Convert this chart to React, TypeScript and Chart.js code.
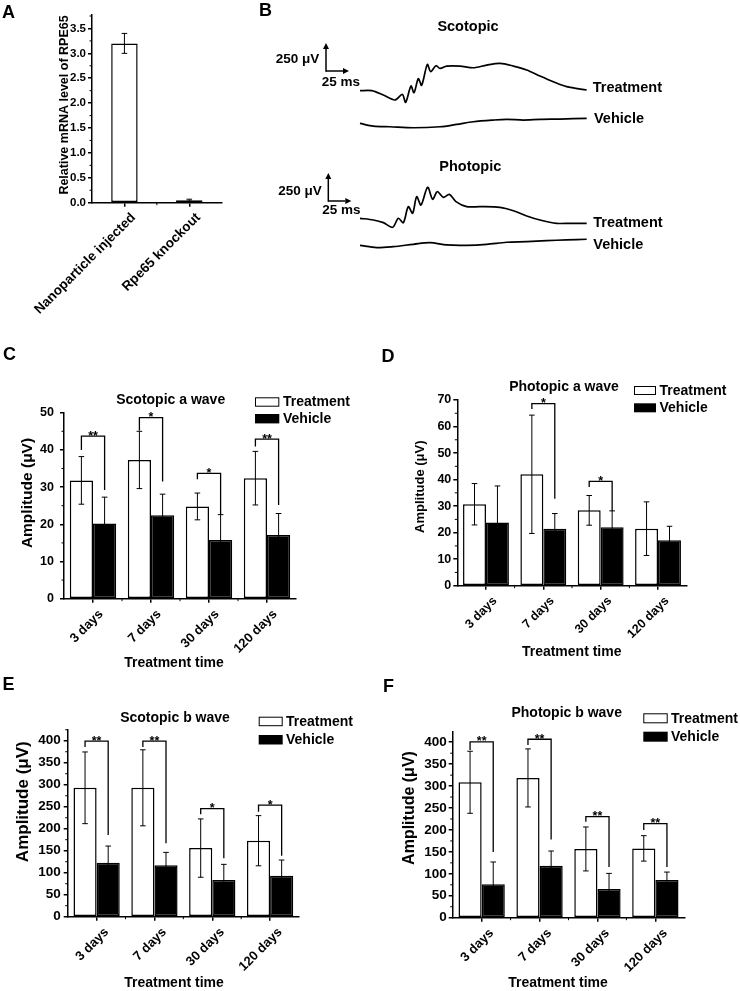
import React, { useEffect, useRef } from 'react';
import { Chart, registerables } from 'chart.js';

Chart.register(...registerables);

const FONT = '"Liberation Sans", Arial, Helvetica, sans-serif';
const boldFont = (size: number) => `bold ${size}px ${FONT}`;

// ================= DATA =================
// Panel A
const A_LABELS = ['Nanoparticle injected', 'Rpe65 knockout'];
const A_VALUES = [3.2, 0.05];
const A_ERRORS = [0.2, 0.02];

// Panel B: ERG traces (time in ms, amplitude in µV)
const SCALE_BAR_MS = 25;
const SCALE_BAR_UV = 250;
const SCOT_TREAT_T = [0, 12.7, 25.4, 38.0, 46.0, 49.6, 55.4, 58.7, 63.4, 67.0, 73.2, 76.8, 82.6, 87.0, 94.2, 108.7, 123.2, 137.7, 152.2, 166.7, 181.2, 195.6, 210.1, 224.6, 246.4];
const SCOT_TREAT_V = [0, 0, -39, -83, -33, -104, 42, -18, 107, 48, 235, 170, 223, 199, 220, 220, 205, 229, 244, 220, 185, 131, 80, 36, 6];
const SCOT_VEH_T = [0, 14.5, 32.6, 58, 87, 105, 123.2, 145, 159.4, 177.5, 195.6, 217.4, 246.4];
const SCOT_VEH_V = [0, -24, -30, -39, -30, -9, 15, 30, 36, 30, 36, 39, 45];
const PHOT_TREAT_T = [0, 14.5, 25.4, 35.5, 41.7, 47.1, 52.5, 57.2, 61.6, 66.3, 73.5, 79.0, 84.0, 90.6, 97.1, 104.3, 115.9, 130.4, 152.2, 166.7, 181.2, 195.6, 213.8, 228.2, 246.4];
const PHOT_TREAT_V = [0, -15, -39, -80, 0, -39, 104, 45, 193, 119, 277, 170, 238, 187, 214, 149, 104, 104, 98, 68, 21, -15, -45, -45, -45];
const PHOT_VEH_T = [0, 18.1, 36.2, 58, 76.1, 94.2, 115.9, 137.7, 159.4, 181.2, 202.9, 224.6, 246.4];
const PHOT_VEH_V = [0, -21, -12, 9, 24, 3, 0, 9, 27, 33, 42, 48, 54];

// Panels C–F
const TIME_LABELS = ['3 days', '7 days', '30 days', '120 days'];

const C_TREATMENT = [31.8, 37.3, 24.8, 32.4];
const C_TREATMENT_SD = [6.4, 7.7, 3.6, 7.2];
const C_VEHICLE = [20.2, 22.4, 15.8, 17.1];
const C_VEHICLE_SD = [7.1, 5.7, 6.8, 5.8];
// [category index, bracket level, left leg end, right leg end, label]
const C_SIG = [[0, 43.7, 40, 29.2, '**'], [1, 48.7, 45.2, 31.5, '*'], [2, 33.7, 32.1, 22.8, '*'], [3, 42.9, 40.9, 25.2, '**']];

const D_TREATMENT = [30.7, 42.0, 28.4, 21.5];
const D_TREATMENT_SD = [7.8, 22.3, 5.6, 10.1];
const D_VEHICLE = [23.8, 21.5, 22.0, 17.1];
const D_VEHICLE_SD = [13.8, 5.7, 6.2, 5.3];
const D_SIG = [[1, 68.6, 66.6, 32.8, '*'], [2, 39.3, 37.2, 28.2, '*']];

const E_TREATMENT = [293, 293, 156, 172.7];
const E_TREATMENT_SD = [81.5, 86.4, 66.3, 57];
const E_VEHICLE = [122.7, 116.7, 83.3, 93.2];
const E_VEHICLE_SD = [37.9, 29.5, 35.7, 35.6];
const E_SIG = [[0, 399, 386, 185.6, '**'], [1, 399, 386, 166.7, '**'], [2, 245.5, 233, 132.6, '*'], [3, 253.8, 238.6, 138.6, '*']];

const F_TREATMENT = [308.7, 318.6, 156.7, 158];
const F_TREATMENT_SD = [70.7, 66.2, 50.1, 29];
const F_VEHICLE = [76, 118.6, 65.4, 86];
const F_VEHICLE_SD = [51, 33.4, 35.6, 18];
const F_SIG = [[0, 400.8, 382.5, 149.8, '**'], [1, 406.8, 393.9, 178, '**'], [2, 230.4, 219, 115.6, '**'], [3, 214.4, 200, 115.6, '**']];

// ================= LAYOUT =================
const A_PANEL = {
  canvas: { x: 0, y: 0, w: 240, h: 330 },
  area: { l: 92, t: 15, r: 221.7, b: 202.7 },
  labels: A_LABELS,
  series: [{ name: 'RPE65', values: A_VALUES, errors: A_ERRORS, fill: '#ffffff' }],
  catPct: 0.8, barPct: 0.51,
  yMax: 3.77, yStep: 0.5, decimals: 1, yTickSize: 11.5, yTickPad: 2,
  xTickSize: 13.5, xLabelOffset: 9, xTickPad: 3,
  sig: [],
  yTitle: { text: 'Relative mRNA level of RPE65', x: 65, y: 105, size: 12.5 },
  letter: { text: 'A', x: 2, y: 18.3 },
};

function timePanel(o: any) {
  return {
    labels: TIME_LABELS,
    catPct: 0.8, barPct: 1,
    decimals: 0,
    series: [
      { name: 'Treatment', values: o.treat, errors: o.treatErr, fill: '#ffffff' },
      { name: 'Vehicle', values: o.veh, errors: o.vehErr, fill: '#000000' },
    ],
    ...o,
  };
}

const C_PANEL = timePanel({
  canvas: { x: 0, y: 340, w: 370, h: 330 },
  area: { l: 64, t: 412.7, r: 296, b: 598.7 },
  treat: C_TREATMENT, treatErr: C_TREATMENT_SD, veh: C_VEHICLE, vehErr: C_VEHICLE_SD, sig: C_SIG,
  yMax: 50, yStep: 10, yTickSize: 12.5, yTickPad: 6,
  xTickSize: 13, xLabelOffset: 8, xTickPad: 4,
  title: { text: 'Scotopic a wave', x: 170.7, y: 400 },
  legend: { x: 255, w: 24.3, y1: 397.3, y2: 414, h: 9.4, textX: 283 },
  yTitle: { text: 'Amplitude (\u03bcV)', x: 27.7, y: 493, size: 15.5 },
  xTitle: { text: 'Treatment time', x: 174, y: 663, size: 14 },
  letter: { text: 'C', x: 3, y: 360 },
});

const D_PANEL = timePanel({
  canvas: { x: 370, y: 340, w: 370, h: 330 },
  area: { l: 457.3, t: 400, r: 686.7, b: 585.7 },
  treat: D_TREATMENT, treatErr: D_TREATMENT_SD, veh: D_VEHICLE, vehErr: D_VEHICLE_SD, sig: D_SIG,
  yMax: 70, yStep: 10, yTickSize: 12.5, yTickPad: 2,
  xTickSize: 12.5, xLabelOffset: 9, xTickPad: 4,
  title: { text: 'Photopic a wave', x: 564, y: 386.7 },
  legend: { x: 634, w: 22, y1: 386, y2: 403.3, h: 9, textX: 659.5 },
  yTitle: { text: 'Amplitude (\u03bcV)', x: 420, y: 486.7, size: 13 },
  xTitle: { text: 'Treatment time', x: 571.7, y: 651.7, size: 14 },
  letter: { text: 'D', x: 381.5, y: 361.7 },
});

const E_PANEL = timePanel({
  canvas: { x: 0, y: 670, w: 370, h: 321 },
  area: { l: 67.7, t: 729.3, r: 299, b: 916.7 },
  treat: E_TREATMENT, treatErr: E_TREATMENT_SD, veh: E_VEHICLE, vehErr: E_VEHICLE_SD, sig: E_SIG,
  yMax: 426, yStep: 50, yTickSize: 13.5, yTickPad: 3,
  xTickSize: 13, xLabelOffset: 10, xTickPad: 4,
  title: { text: 'Scotopic b wave', x: 175, y: 718 },
  legend: { x: 258.7, w: 24, y1: 716.7, y2: 735, h: 9.5, textX: 286 },
  yTitle: { text: 'Amplitude (\u03bcV)', x: 23.3, y: 801.7, size: 17 },
  xTitle: { text: 'Treatment time', x: 174, y: 983, size: 14 },
  letter: { text: 'E', x: 2.5, y: 690 },
});

const F_PANEL = timePanel({
  canvas: { x: 370, y: 670, w: 370, h: 321 },
  area: { l: 452.7, t: 731.7, r: 684.3, b: 917.7 },
  treat: F_TREATMENT, treatErr: F_TREATMENT_SD, veh: F_VEHICLE, vehErr: F_VEHICLE_SD, sig: F_SIG,
  yMax: 424, yStep: 50, yTickSize: 13.5, yTickPad: 2,
  xTickSize: 13, xLabelOffset: 10, xTickPad: 4,
  title: { text: 'Photopic b wave', x: 566.7, y: 712.7 },
  legend: { x: 643.3, w: 24.4, y1: 713.3, y2: 731.7, h: 10, textX: 671 },
  yTitle: { text: 'Amplitude (\u03bcV)', x: 409.3, y: 808, size: 16 },
  xTitle: { text: 'Treatment time', x: 558, y: 983.3, size: 14 },
  letter: { text: 'F', x: 383, y: 691.7 },
});

const PX_PER_MS = 23 / SCALE_BAR_MS;
const UV_PER_PX = SCALE_BAR_UV / 28;

const SCOT_PANEL = {
  canvas: { x: 240, y: 0, w: 500, h: 150 },
  baseX: 360, baseY: 90.7,
  treatT: SCOT_TREAT_T, treatV: SCOT_TREAT_V, vehT: SCOT_VEH_T, vehV: SCOT_VEH_V,
  vehOffset: -292,
  barCorner: { x: 326, y: 71 },
  title: { text: 'Scotopic', x: 468, y: 26.7 },
  uvLabel: { x: 319.3, y: 59.3 },
  msLabel: { x: 321.7, y: 82.3 },
  treatLabel: { x: 592.7, y: 87.7 },
  vehLabel: { x: 594, y: 119.3 },
  letter: { text: 'B', x: 259, y: 16 },
};

const PHOT_PANEL = {
  canvas: { x: 240, y: 150, w: 500, h: 150 },
  baseX: 360, baseY: 218.3,
  treatT: PHOT_TREAT_T, treatV: PHOT_TREAT_V, vehT: PHOT_VEH_T, vehV: PHOT_VEH_V,
  vehOffset: -241,
  barCorner: { x: 328.3, y: 201 },
  title: { text: 'Photopic', x: 470.3, y: 166.7 },
  uvLabel: { x: 321.7, y: 191 },
  msLabel: { x: 322.3, y: 210.7 },
  treatLabel: { x: 593.3, y: 222.7 },
  vehLabel: { x: 593.3, y: 245 },
  letter: null,
};

// ================= HELPERS =================
function seg(ctx: CanvasRenderingContext2D, x1: number, y1: number, x2: number, y2: number) {
  ctx.beginPath();
  ctx.moveTo(x1, y1);
  ctx.lineTo(x2, y2);
  ctx.stroke();
}

function text(ctx: CanvasRenderingContext2D, s: string, x: number, y: number, size: number, align: CanvasTextAlign = 'center', baseline: CanvasTextBaseline = 'middle') {
  ctx.font = boldFont(size);
  ctx.textAlign = align;
  ctx.textBaseline = baseline;
  ctx.fillStyle = '#000';
  ctx.fillText(s, x, y);
}

function arrow(ctx: CanvasRenderingContext2D, x1: number, y1: number, x2: number, y2: number) {
  const ang = Math.atan2(y2 - y1, x2 - x1);
  const len = 6, half = 3;
  const bx = x2 - len * Math.cos(ang), by = y2 - len * Math.sin(ang);
  ctx.lineWidth = 1.5;
  seg(ctx, x1, y1, bx, by);
  ctx.beginPath();
  ctx.moveTo(x2, y2);
  ctx.lineTo(bx - half * Math.sin(ang), by + half * Math.cos(ang));
  ctx.lineTo(bx + half * Math.sin(ang), by - half * Math.cos(ang));
  ctx.closePath();
  ctx.fill();
}

function barOverlay(p: any) {
  return {
    id: 'barOverlay',
    afterDraw(chart: any) {
      const ctx: CanvasRenderingContext2D = chart.ctx;
      const X = (v: number) => v - p.canvas.x;
      const Y = (v: number) => v - p.canvas.y;
      const xs = chart.scales.x;
      const ys = chart.scales.y;
      const ca = chart.chartArea;
      ctx.save();
      ctx.strokeStyle = '#000';
      ctx.fillStyle = '#000';
      // minor ticks
      ctx.lineWidth = 1;
      for (let k = 0; ; k++) {
        const v = p.yStep * (k + 0.5);
        if (v > p.yMax + 1e-9) break;
        const y = ys.getPixelForValue(v);
        seg(ctx, ca.left - 2.5, y, ca.left, y);
      }
      for (let i = 1; i < p.labels.length; i++) {
        const x = (xs.getPixelForValue(i - 1) + xs.getPixelForValue(i)) / 2;
        seg(ctx, x, ca.bottom, x, ca.bottom + 2.5);
      }
      // error bars
      p.series.forEach((s: any, di: number) => {
        const meta = chart.getDatasetMeta(di);
        meta.data.forEach((el: any, i: number) => {
          const x = el.x;
          const yt = ys.getPixelForValue(s.values[i] + s.errors[i]);
          const yb = ys.getPixelForValue(Math.max(0, s.values[i] - s.errors[i]));
          ctx.lineWidth = 1;
          seg(ctx, x, yt, x, yb);
          seg(ctx, x - 2.8, yt, x + 2.8, yt);
          seg(ctx, x - 2.8, yb, x + 2.8, yb);
        });
      });
      // significance brackets
      if (p.sig && p.sig.length) {
        const m0 = chart.getDatasetMeta(0);
        const m1 = chart.getDatasetMeta(1);
        p.sig.forEach((b: any) => {
          const [idx, top, le, re, lab] = b;
          const lx = m0.data[idx].x;
          const rx = m1.data[idx].x;
          const yt = ys.getPixelForValue(top);
          ctx.lineWidth = 1.3;
          ctx.beginPath();
          ctx.moveTo(lx, ys.getPixelForValue(le));
          ctx.lineTo(lx, yt);
          ctx.lineTo(rx, yt);
          ctx.lineTo(rx, ys.getPixelForValue(re));
          ctx.stroke();
          text(ctx, lab, (lx + rx) / 2, yt + 3.5, 12.5, 'center', 'alphabetic');
        });
      }
      // title
      if (p.title) text(ctx, p.title.text, X(p.title.x), Y(p.title.y), 14);
      // legend
      if (p.legend) {
        const L = p.legend;
        ctx.fillStyle = '#fff';
        ctx.fillRect(X(L.x), Y(L.y1), L.w, L.h);
        ctx.lineWidth = 1;
        ctx.strokeStyle = '#000';
        ctx.strokeRect(X(L.x) + 0.5, Y(L.y1) + 0.5, L.w - 1, L.h - 1);
        ctx.fillStyle = '#000';
        ctx.fillRect(X(L.x), Y(L.y2), L.w, L.h);
        text(ctx, p.series[0].name, X(L.textX), Y(L.y1) + L.h / 2 + 0.5, 14, 'left');
        text(ctx, p.series[1].name, X(L.textX), Y(L.y2) + L.h / 2 + 0.5, 14, 'left');
      }
      // axis titles
      if (p.yTitle) {
        ctx.save();
        ctx.translate(X(p.yTitle.x), Y(p.yTitle.y));
        ctx.rotate(-Math.PI / 2);
        text(ctx, p.yTitle.text, 0, 0, p.yTitle.size);
        ctx.restore();
      }
      if (p.xTitle) text(ctx, p.xTitle.text, X(p.xTitle.x), Y(p.xTitle.y), p.xTitle.size);
      if (p.letter) text(ctx, p.letter.text, X(p.letter.x), Y(p.letter.y), 18, 'left', 'alphabetic');
      ctx.restore();
    },
  };
}

function barConfig(p: any) {
  const c = p.canvas;
  const a = p.area;
  const font = (size: number) => ({ family: FONT, weight: 'bold', size });
  const datasets = p.series.map((s: any) => ({
    label: s.name,
    data: s.values,
    backgroundColor: s.fill,
    borderColor: '#000',
    borderWidth: 1.5,
    borderSkipped: false,
    categoryPercentage: p.catPct,
    barPercentage: p.barPct,
  }));
  return {
    type: 'bar',
    data: { labels: p.labels, datasets },
    options: {
      responsive: false,
      maintainAspectRatio: false,
      animation: false,
      devicePixelRatio: 1,
      events: [],
      layout: { padding: { left: 0, top: a.t - c.y, right: c.x + c.w - a.r, bottom: 0 } },
      plugins: { legend: { display: false }, tooltip: { enabled: false }, title: { display: false } },
      scales: {
        x: {
          type: 'category',
          offset: true,
          grid: { display: true, drawOnChartArea: false, offset: false, drawTicks: true, tickLength: 4, color: '#000', lineWidth: 1.5 },
          border: { display: true, color: '#000', width: 1.5 },
          ticks: {
            color: '#000', font: font(p.xTickSize), minRotation: 45, maxRotation: 45,
            autoSkip: false, labelOffset: p.xLabelOffset, padding: p.xTickPad,
          },
          afterFit: (s: any) => { s.height = c.y + c.h - a.b; },
        },
        y: {
          type: 'linear',
          min: 0,
          max: p.yMax,
          grid: { display: true, drawOnChartArea: false, drawTicks: true, tickLength: 4, color: '#000', lineWidth: 1.5 },
          border: { display: true, color: '#000', width: 1.5 },
          ticks: {
            stepSize: p.yStep, color: '#000', font: font(p.yTickSize), padding: p.yTickPad, autoSkip: false,
            callback: (v: any) => Number(v).toFixed(p.decimals),
          },
          afterBuildTicks: (s: any) => {
            const arr: any[] = [];
            for (let k = 0; p.yStep * k <= p.yMax + 1e-9; k++) arr.push({ value: +(p.yStep * k).toFixed(6) });
            s.ticks = arr;
          },
          afterFit: (s: any) => { s.width = a.l - c.x; },
        },
      },
    },
    plugins: [barOverlay(p)],
  };
}

function traceOverlay(p: any) {
  return {
    id: 'traceOverlay',
    afterDraw(chart: any) {
      const ctx: CanvasRenderingContext2D = chart.ctx;
      const X = (v: number) => v - p.canvas.x;
      const Y = (v: number) => v - p.canvas.y;
      const xs = chart.scales.x;
      const ys = chart.scales.y;
      ctx.save();
      ctx.strokeStyle = '#000';
      ctx.fillStyle = '#000';
      // scale bar
      const cx = X(p.barCorner.x);
      const cy = Y(p.barCorner.y);
      const cxv = xs.getValueForPixel(cx);
      const cyv = ys.getValueForPixel(cy);
      arrow(ctx, cx, cy, xs.getPixelForValue(cxv + SCALE_BAR_MS), cy);
      arrow(ctx, cx, cy + 0.75, cx, ys.getPixelForValue(cyv + SCALE_BAR_UV));
      text(ctx, '250 \u03bcV', X(p.uvLabel.x), Y(p.uvLabel.y), 13.5, 'right');
      text(ctx, '25 ms', X(p.msLabel.x), Y(p.msLabel.y), 13.5, 'left');
      text(ctx, p.title.text, X(p.title.x), Y(p.title.y), 14.5);
      text(ctx, 'Treatment', X(p.treatLabel.x), Y(p.treatLabel.y), 14.5, 'left');
      text(ctx, 'Vehicle', X(p.vehLabel.x), Y(p.vehLabel.y), 14.5, 'left');
      if (p.letter) text(ctx, p.letter.text, X(p.letter.x), Y(p.letter.y), 18, 'left', 'alphabetic');
      ctx.restore();
    },
  };
}

function traceConfig(p: any) {
  const c = p.canvas;
  const xmin = (c.x - p.baseX) / PX_PER_MS;
  const xmax = (c.x + c.w - p.baseX) / PX_PER_MS;
  const ymax = (p.baseY - c.y) * UV_PER_PX;
  const ymin = (p.baseY - c.y - c.h) * UV_PER_PX;
  const pts = (t: number[], v: number[], off: number) => t.map((x, i) => ({ x, y: v[i] + off }));
  const line = { showLine: true, borderColor: '#000', borderWidth: 1.7, pointRadius: 0, tension: 0.3, fill: false };
  return {
    type: 'scatter',
    data: {
      datasets: [
        { label: 'Treatment', data: pts(p.treatT, p.treatV, 0), ...line },
        { label: 'Vehicle', data: pts(p.vehT, p.vehV, p.vehOffset), ...line },
      ],
    },
    options: {
      responsive: false,
      maintainAspectRatio: false,
      animation: false,
      devicePixelRatio: 1,
      events: [],
      layout: { padding: 0 },
      plugins: { legend: { display: false }, tooltip: { enabled: false } },
      scales: {
        x: { type: 'linear', display: false, min: xmin, max: xmax },
        y: { type: 'linear', display: false, min: ymin, max: ymax },
      },
    },
    plugins: [traceOverlay(p)],
  };
}

function ChartCanvas({ rect, build }: { rect: any; build: () => any }) {
  const ref = useRef<HTMLCanvasElement>(null);
  useEffect(() => {
    const chart = new Chart(ref.current as HTMLCanvasElement, build() as any);
    return () => chart.destroy();
  }, []);
  return (
    <canvas
      ref={ref}
      width={rect.w}
      height={rect.h}
      style={{ position: 'absolute', left: rect.x, top: rect.y, width: rect.w, height: rect.h, display: 'block' }}
    />
  );
}

export default function App() {
  return (
    <div style={{ position: 'absolute', left: 0, top: 0, width: 740, height: 991, background: '#fff', overflow: 'hidden' }}>
      <ChartCanvas rect={A_PANEL.canvas} build={() => barConfig(A_PANEL)} />
      <ChartCanvas rect={SCOT_PANEL.canvas} build={() => traceConfig(SCOT_PANEL)} />
      <ChartCanvas rect={PHOT_PANEL.canvas} build={() => traceConfig(PHOT_PANEL)} />
      <ChartCanvas rect={C_PANEL.canvas} build={() => barConfig(C_PANEL)} />
      <ChartCanvas rect={D_PANEL.canvas} build={() => barConfig(D_PANEL)} />
      <ChartCanvas rect={E_PANEL.canvas} build={() => barConfig(E_PANEL)} />
      <ChartCanvas rect={F_PANEL.canvas} build={() => barConfig(F_PANEL)} />
    </div>
  );
}
